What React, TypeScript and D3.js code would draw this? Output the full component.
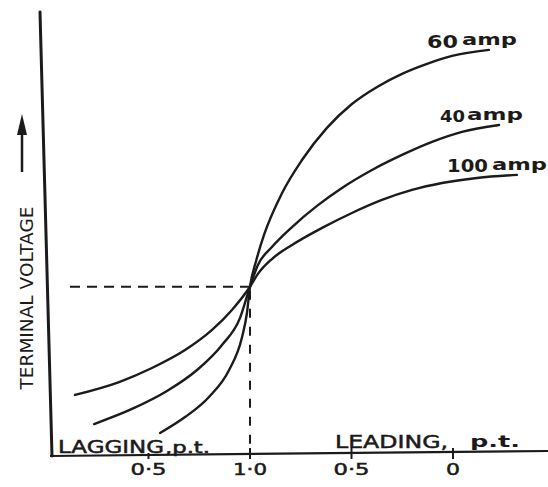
import React from "react";
import * as d3 from "d3";

// x: position along power-factor axis (0 = lagging 0, 1 = unity, 2 = leading 0)
// y: terminal voltage (relative units, 1 = value at unity p.f.)
const amp60: [number, number][] = [
  [0.557, 0.136], [0.68, 0.23], [0.798, 0.349], [0.897, 0.508], [0.961, 0.703], [0.985, 0.845],
  [1.0, 1.0], [1.03, 1.152], [1.069, 1.306], [1.158, 1.554], [1.256, 1.749], [1.379, 1.939],
  [1.502, 2.08], [1.626, 2.181], [1.749, 2.258], [1.872, 2.317], [1.995, 2.364], [2.177, 2.4],
];
const amp40: [number, number][] = [
  [0.232, 0.189], [0.419, 0.278], [0.591, 0.384], [0.739, 0.508], [0.862, 0.656], [0.951, 0.816],
  [1.0, 1.0], [1.039, 1.129], [1.108, 1.235], [1.207, 1.353], [1.33, 1.478], [1.453, 1.584],
  [1.601, 1.69], [1.749, 1.779], [1.897, 1.856], [2.044, 1.915], [2.227, 1.956],
];
const amp100: [number, number][] = [
  [0.138, 0.361], [0.355, 0.437], [0.517, 0.52], [0.68, 0.626], [0.813, 0.745], [0.911, 0.863],
  [1.0, 1.0], [1.039, 1.076], [1.108, 1.164], [1.207, 1.247], [1.355, 1.348], [1.502, 1.436],
  [1.65, 1.513], [1.798, 1.572], [1.946, 1.613], [2.118, 1.643], [2.315, 1.661],
];
const seriesCurrents = ["60", "40", "100"];
const xTickValues = [0.5, 1.0, 1.5, 2.0];
const xTickLabels = ["0·5", "1·0", "0·5", "0"];
const unityPoint: [number, number] = [1.0, 1.0];

const INK = "#1c1a1a";
const FONT = "'DejaVu Sans', 'Liberation Sans', sans-serif";

export default function App() {
  const x = d3.scaleLinear().domain([0, 2]).range([47, 453]);
  const y = d3.scaleLinear().domain([0, 2.6]).range([456, 16]);
  const line = d3
    .line<[number, number]>()
    .x((d) => x(d[0]))
    .y((d) => y(d[1]))
    .curve(d3.curveMonotoneX);

  const series = [amp60, amp40, amp100];
  const ux = x(unityPoint[0]);
  const uy = y(unityPoint[1]);

  const labelPos = [
    { nx: 427, nw: 31, ny: 48, ns: 18, ax: 462, aw: 55, ay: 45 },
    { nx: 440, nw: 25, ny: 122, ns: 16, ax: 467, aw: 56, ay: 120 },
    { nx: 447, nw: 41, ny: 172, ns: 17, ax: 492, aw: 55, ay: 170 },
  ];
  const tickLabelW = [36, 34, 36, 14];
  const thick = { stroke: INK, strokeWidth: 0.5 };

  return (
    <svg
      width={548}
      height={487}
      style={{ position: "absolute", left: 0, top: 0, display: "block", background: "#fff" }}
    >
      <rect x={0} y={0} width={548} height={487} fill="#fff" />
      {/* axes */}
      <line x1={40} y1={12} x2={52} y2={456} stroke={INK} strokeWidth={3} strokeLinecap="round" />
      <line x1={50} y1={456} x2={548} y2={451} stroke={INK} strokeWidth={2.2} />

      {/* ticks */}
      {xTickValues.map((v, i) => (
        <line key={"t" + i} x1={x(v)} x2={x(v)} y1={i === 0 ? 453 : 448} y2={459} stroke={INK} strokeWidth={2} />
      ))}
      {xTickValues.map((v, i) => (
        <text
          key={"tl" + i}
          x={x(v) - tickLabelW[i] / 2}
          y={475}
          fontFamily={FONT}
          fontSize={16}
          fill={INK}
          {...thick}
          textLength={tickLabelW[i]}
          lengthAdjust="spacingAndGlyphs"
        >
          {xTickLabels[i]}
        </text>
      ))}

      {/* dashed reference lines */}
      <line x1={70} y1={uy} x2={ux} y2={uy} stroke={INK} strokeWidth={1.8} strokeDasharray="10,7" />
      <line x1={ux} y1={uy + 4} x2={ux} y2={455} stroke={INK} strokeWidth={2} strokeDasharray="9,9" />

      {/* curves */}
      {series.map((s, i) => (
        <path key={"c" + i} d={line(s) || ""} fill="none" stroke={INK} strokeWidth={2.4} strokeLinecap="round" />
      ))}

      {/* curve labels */}
      {labelPos.map((p, i) => (
        <g key={"l" + i} fill={INK} fontFamily={FONT} fontWeight="bold">
          <text x={p.nx} y={p.ny} fontSize={p.ns} textLength={p.nw} lengthAdjust="spacingAndGlyphs">
            {seriesCurrents[i]}
          </text>
          <text x={p.ax} y={p.ay} fontSize={15} textLength={p.aw} lengthAdjust="spacingAndGlyphs">
            amp
          </text>
        </g>
      ))}

      {/* axis annotations */}
      <text x={58} y={453} fontFamily={FONT} fontSize={18} fill={INK} {...thick} textLength={106} lengthAdjust="spacingAndGlyphs">
        LAGGING
      </text>
      <text x={165} y={453} fontFamily={FONT} fontSize={15} fill={INK} {...thick} textLength={45} lengthAdjust="spacingAndGlyphs">
        ,p.t.
      </text>
      <text x={335} y={448} fontFamily={FONT} fontSize={18} fill={INK} {...thick} textLength={113} lengthAdjust="spacingAndGlyphs">
        LEADING,
      </text>
      <text x={470} y={447} fontFamily={FONT} fontSize={16} fill={INK} fontWeight="bold" textLength={50} lengthAdjust="spacingAndGlyphs">
        p.t.
      </text>

      <text
        transform="translate(33,298) rotate(-90)"
        textAnchor="middle"
        fontFamily={FONT}
        fontSize={17}
        fill={INK}
        textLength={183}
        lengthAdjust="spacingAndGlyphs"
      >
        TERMINAL VOLTAGE
      </text>
      <line x1={22} y1={172} x2={22} y2={130} stroke={INK} strokeWidth={2.5} />
      <polygon points="22,114 17,135 27,135" fill={INK} />
    </svg>
  );
}
